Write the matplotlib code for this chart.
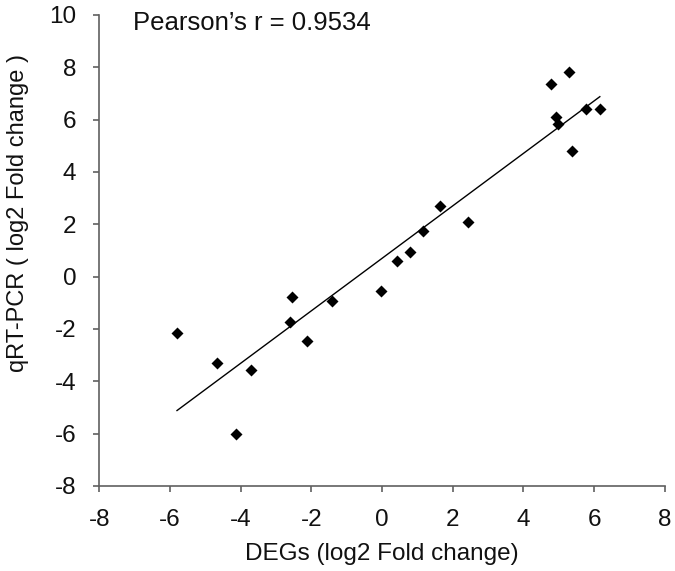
import matplotlib
matplotlib.use("Agg")
import matplotlib.pyplot as plt
import numpy as np

plt.rcParams["font.family"] = ["Liberation Sans", "DejaVu Sans"]
plt.rcParams["axes.unicode_minus"] = False

# log2 fold change: RNA-seq (DEGs) vs qRT-PCR
degs = [-5.80, -4.68, -4.14, -3.72, -2.54, -2.61, -2.12, -1.41, -0.04, 0.41,
        0.80, 1.15, 1.64, 2.42, 4.78, 5.29, 4.92, 4.98, 5.78, 6.16, 5.38]
qpcr = [-2.14, -3.32, -6.00, -3.57, -0.79, -1.72, -2.46, -0.93, -0.56, 0.61,
        0.92, 1.75, 2.71, 2.10, 7.36, 7.82, 6.11, 5.82, 6.41, 6.42, 4.78]
pearson_r = "0.9534"

x = np.array(degs)
y = np.array(qpcr)
slope, intercept = np.polyfit(x, y, 1)
xfit = np.array([x.min(), x.max()])

fig = plt.figure(figsize=(6.75, 5.71), dpi=100)
ax = fig.add_axes([0.147, 0.149, 0.838, 0.825])

ax.plot(xfit, slope * xfit + intercept, color="black", lw=1.0)
ax.plot(x, y, "D", color="black", ms=6.5, mec="none")

ax.set_xlim(-8, 8)
ax.set_ylim(-8, 10)
ax.set_xticks(range(-8, 9, 2))
ax.set_yticks(range(-8, 11, 2))

for side in ["top", "right"]:
    ax.spines[side].set_visible(False)
for side in ["left", "bottom"]:
    ax.spines[side].set_color("#606060")
    ax.spines[side].set_linewidth(1.2)

ax.tick_params(direction="out", length=4.5, width=1.2, color="#606060",
               labelsize=17.5, labelcolor="#111111")
ax.tick_params(axis="x", pad=12)
ax.tick_params(axis="y", pad=12)

ax.set_xlabel("DEGs (log2 Fold change)", fontsize=17.5, color="#111111", labelpad=8.5)
ax.set_ylabel("qRT-PCR ( log2 Fold change )", fontsize=17, color="#111111")
ax.yaxis.set_label_coords(-0.124, 0.58)

ax.text(-7.05, 9.7, f"Pearson\u2019s r = {pearson_r}", fontsize=18.5,
        color="#111111", va="center", ha="left")

plt.savefig("out.png", dpi=100)
